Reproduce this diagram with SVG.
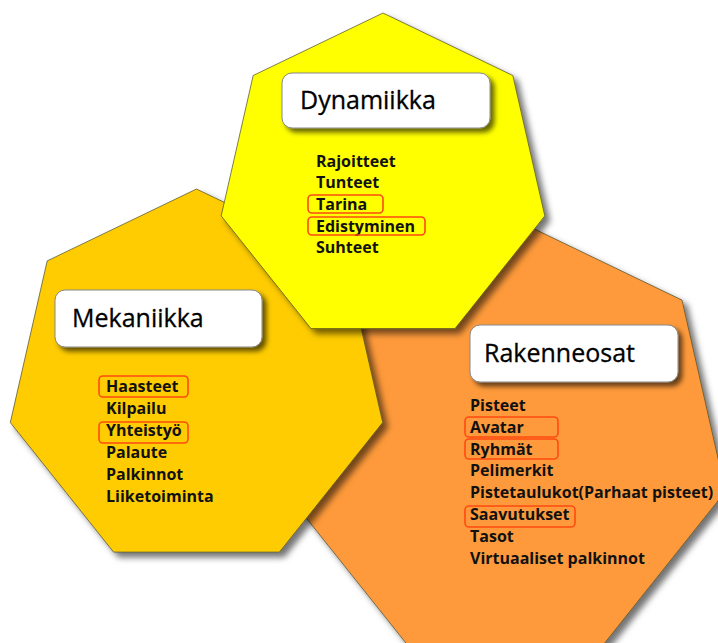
<svg xmlns="http://www.w3.org/2000/svg" width="718" height="643" viewBox="0 0 718 643">
<defs>
<filter id="sh" x="-10%" y="-10%" width="130%" height="130%">
<feDropShadow dx="5" dy="5" stdDeviation="3" flood-color="#000" flood-opacity="0.55"/>
</filter>
<filter id="sh2" x="-10%" y="-20%" width="130%" height="160%">
<feDropShadow dx="4" dy="4" stdDeviation="2.5" flood-color="#000" flood-opacity="0.6"/>
</filter>
</defs>
<style>
.hex{stroke:#4a4a2a;stroke-opacity:0.7;stroke-width:1;filter:url(#sh)}
.box{fill:#fff;stroke:#888;stroke-width:1;filter:url(#sh2)}
.title{font-family:"Open Sans","Noto Sans",sans-serif;font-size:25px;fill:#000;stroke:#000;stroke-width:0.3}
.item{font-family:"Open Sans","Noto Sans",sans-serif;font-size:16px;font-weight:bold;fill:#111}
.hl{fill:none;stroke:#ff4a10;stroke-width:1.6}
</style>
<rect width="718" height="643" fill="#fff"/>
<g id="rakenneosat">
<polygon class="hex" fill="#FE9A3A" points="505.3,215 682,300.1 725.6,491.3 603.4,644.6 407.2,644.6 285,491.3 328.6,300.1"/>
</g>
<g id="mekaniikka">
<polygon class="hex" fill="#FECC00" points="196.5,189 345.8,260.9 382.7,422.5 279.4,552.1 113.6,552.1 10.3,422.5 47.2,260.9"/>
<rect class="box" x="55" y="290" width="207" height="57" rx="10"/>
<text class="title" x="72" y="327">Mekaniikka</text>
<text class="item" x="106" y="392">Haasteet</text>
<text class="item" x="106" y="414">Kilpailu</text>
<text class="item" x="106" y="436">Yhteistyö</text>
<text class="item" x="106" y="458">Palaute</text>
<text class="item" x="106" y="480">Palkinnot</text>
<text class="item" x="106" y="502">Liiketoiminta</text>
<rect class="hl" x="99" y="376" width="89" height="21" rx="4"/>
<rect class="hl" x="99" y="422" width="89" height="21" rx="4"/>
</g>
<g id="dynamiikka">
<polygon class="hex" fill="#FFFF00" points="383,13 512.8,75.5 544.8,215.9 455,328.6 311,328.6 221.2,215.9 253.2,75.5"/>
<rect class="box" x="282" y="73" width="208" height="55" rx="10"/>
<text class="title" x="300" y="109">Dynamiikka</text>
<text class="item" x="316" y="167">Rajoitteet</text>
<text class="item" x="316" y="188">Tunteet</text>
<text class="item" x="316" y="210">Tarina</text>
<text class="item" x="316" y="232">Edistyminen</text>
<text class="item" x="316" y="253">Suhteet</text>
<rect class="hl" x="308" y="195" width="75" height="18" rx="4"/>
<rect class="hl" x="308" y="217" width="117" height="18" rx="4"/>
</g>
<g id="rakenneosat-labels">
<rect class="box" x="470" y="325" width="208" height="57" rx="10"/>
<text class="title" x="484" y="362">Rakenneosat</text>
<text class="item" x="470" y="411">Pisteet</text>
<text class="item" x="470" y="433">Avatar</text>
<text class="item" x="470" y="455">Ryhmät</text>
<text class="item" x="470" y="476">Pelimerkit</text>
<text class="item" x="470" y="498">Pistetaulukot(Parhaat pisteet)</text>
<text class="item" x="470" y="520">Saavutukset</text>
<text class="item" x="470" y="542">Tasot</text>
<text class="item" x="470" y="564">Virtuaaliset palkinnot</text>
<rect class="hl" x="465" y="417" width="93" height="20" rx="4"/>
<rect class="hl" x="465" y="439" width="93" height="20" rx="4"/>
<rect class="hl" x="465" y="506" width="110" height="21" rx="4"/>
</g>
</svg>
